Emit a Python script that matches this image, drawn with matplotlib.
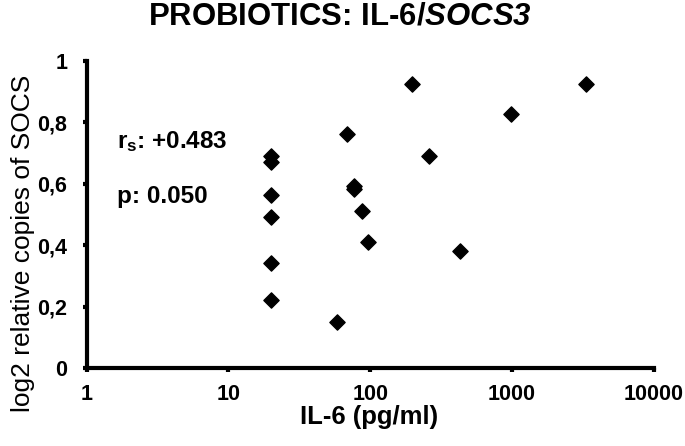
import matplotlib
matplotlib.use("Agg")
import matplotlib.pyplot as plt

plt.rcParams['font.family'] = ['Liberation Sans', 'DejaVu Sans']
plt.rcParams['mathtext.fontset'] = 'custom'
plt.rcParams['mathtext.rm'] = 'Liberation Sans'
plt.rcParams['mathtext.it'] = 'Liberation Sans:italic'
plt.rcParams['mathtext.bf'] = 'Liberation Sans:bold'
plt.rcParams['mathtext.bfit'] = 'Liberation Sans:italic:bold'

il6 = [20, 20, 20, 20, 20, 20, 58.5, 68.5, 77, 77, 88, 97, 196, 262, 430, 985, 3310]
socs = [0.690, 0.670, 0.563, 0.493, 0.343, 0.222, 0.150, 0.762, 0.593, 0.582, 0.512, 0.412, 0.923, 0.690, 0.380, 0.826, 0.923]

xticks = [1, 10, 100, 1000, 10000]
xticklabels = ['1', '10', '100', '1000', '10000']
yticks = [0, 0.2, 0.4, 0.6, 0.8, 1]
yticklabels = ['0', '0,2', '0,4', '0,6', '0,8', '1']

fig = plt.figure(figsize=(6.85, 4.46), dpi=100)
ax = fig.add_axes([0.1264, 0.1742, 0.9543 - 0.1264, 0.8639 - 0.1742])
ax.scatter(il6, socs, marker='D', s=60, color='black', zorder=3, clip_on=False)
ax.set_xscale('log')
ax.set_xlim(1, 10000)
ax.set_ylim(0, 1)
ax.set_xticks(xticks)
ax.set_xticklabels(xticklabels)
ax.minorticks_off()
ax.set_yticks(yticks)
ax.set_yticklabels(yticklabels)
for s in ['top', 'right']:
    ax.spines[s].set_visible(False)
for s in ['left', 'bottom']:
    ax.spines[s].set_linewidth(3)
ax.tick_params(axis='both', direction='out', length=3, width=3, labelsize=15.5)
ax.tick_params(axis='y', pad=11)
ax.tick_params(axis='x', pad=8)
for lab in ax.get_xticklabels() + ax.get_yticklabels():
    lab.set_fontweight('bold')

fig.text(0.539, 0.049, 'IL-6 (pg/ml)', ha='center', va='baseline', fontsize=18.5, fontweight='bold')
fig.text(0.034, 0.455, 'log2 relative copies of SOCS', ha='center', va='center',
         rotation=90, fontsize=19)
fig.text(0.496, 0.944, 'PROBIOTICS: IL-6/$\\mathbfit{SOCS3}$', ha='center', va='baseline',
         fontsize=22.4, fontweight='bold')

ax.text(0.0536, 0.715, r'r$_\mathbf{s}$: +0.483', transform=ax.transAxes, fontsize=17.5,
        fontweight='bold', va='baseline', ha='left')
ax.text(0.0536, 0.537, 'p: 0.050', transform=ax.transAxes, fontsize=17.5,
        fontweight='bold', va='baseline', ha='left')

fig.savefig('out.png', dpi=100)
